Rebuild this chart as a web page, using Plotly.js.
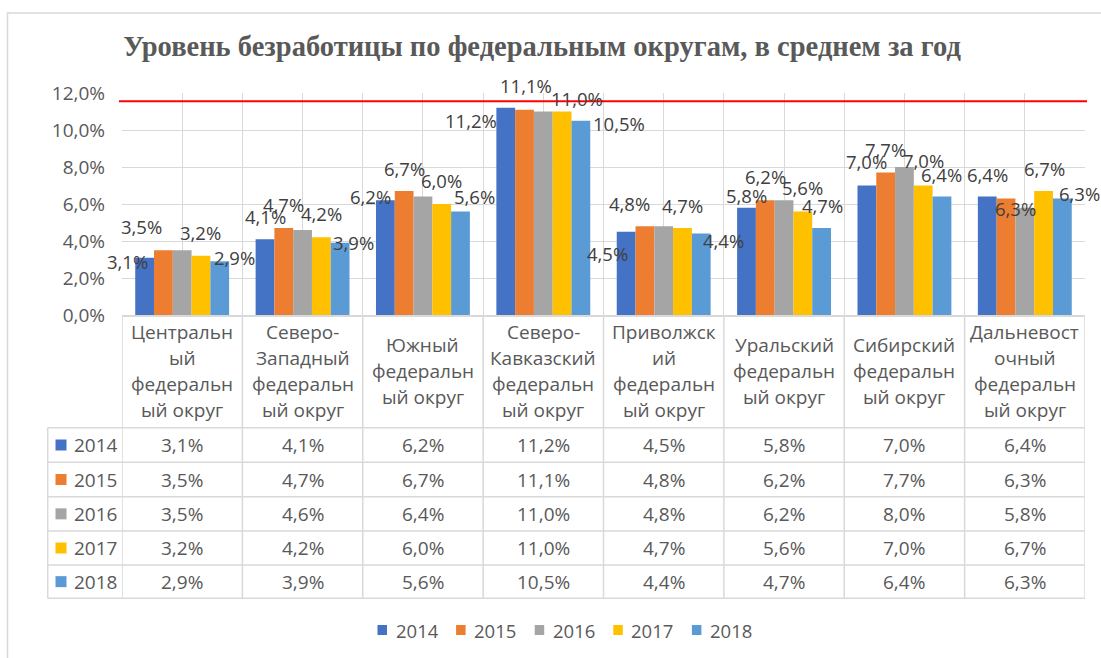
<!DOCTYPE html>
<html>
<head>
<meta charset="utf-8">
<script src="https://cdn.plot.ly/plotly-3.0.1.min.js"></script>
<style>html,body{margin:0;padding:0;background:#fff;}#chart{width:1101px;height:658px;}</style>
</head>
<body>
<div id="chart"></div>
<script>
// ---------- DATA ----------
const categories = [
  "Центральн\nый\nфедеральн\nый округ",
  "Северо-\nЗападный\nфедеральн\nый округ",
  "Южный\nфедеральн\nый округ",
  "Северо-\nКавказский\nфедеральн\nый округ",
  "Приволжск\nий\nфедеральн\nый округ",
  "Уральский\nфедеральн\nый округ",
  "Сибирский\nфедеральн\nый округ",
  "Дальневост\nочный\nфедеральн\nый округ"
];
const years = ["2014", "2015", "2016", "2017", "2018"];
const v2014 = [3.1, 4.1, 6.2, 11.2, 4.5, 5.8, 7.0, 6.4];
const v2015 = [3.5, 4.7, 6.7, 11.1, 4.8, 6.2, 7.7, 6.3];
const v2016 = [3.5, 4.6, 6.4, 11.0, 4.8, 6.2, 8.0, 5.8];
const v2017 = [3.2, 4.2, 6.0, 11.0, 4.7, 5.6, 7.0, 6.7];
const v2018 = [2.9, 3.9, 5.6, 10.5, 4.4, 4.7, 6.4, 6.3];
const yTickVals = [0, 2, 4, 6, 8, 10, 12];
const yTickText = ["0,0%", "2,0%", "4,0%", "6,0%", "8,0%", "10,0%", "12,0%"];
const referenceLine = 11.55;
const chartTitle = "Уровень безработицы по федеральным округам, в среднем за год";

// ---------- STYLE ----------
const series = [v2014, v2015, v2016, v2017, v2018];
const colors = ["#4472C4", "#ED7D31", "#A5A5A5", "#FFC000", "#5B9BD5"];
const FONT = "Open Sans, sans-serif";
const TXT = "#595959";
const LINE = "#d9d9d9";
// label nudges [dx, dy] in px relative to bar top centre (null = no label)
const labelNudge = [
  [[-17, 4], [0, -23], [-15, -4], [-35, 13], [-19, 22], [0, -12], [0, -24], [0, -22]],
  [[-22, -24], [0, -24], [0, -23], [1, -24], [-15, -23], [0, -24], [0, -23], [9, 10]],
  null,
  [[0, -23], [0, -24], [0, -24], [15, -13], [0, -23], [0, -24], [0, -25], [1, -23]],
  [[15, -4], [13, 0], [14, -15], [38, 3], [22, 7], [1, -23], [0, -22], [17, -5]]
];

const W = 1101, H = 658;
const PL = 122, PR = 1085, PT = 93, PB = 315;
const PW = PR - PL, PH = PB - PT;
const px = x => (x - PL) / PW;
const py = y => (PB - y) / PH;

const fmt = v => v.toFixed(1).replace(".", ",") + "%";
const idx = categories.map((c, i) => i);
const bargap = 0.22;
const barW = (1 - bargap) / years.length;

const traces = years.map((yr, i) => ({
  type: "bar",
  name: yr,
  x: idx,
  y: series[i],
  marker: { color: colors[i] },
  hoverinfo: "none",
  showlegend: false
}));

const annotations = [];
const shapes = [];

// data labels
series.forEach((vals, i) => {
  const nudge = labelNudge[i];
  if (!nudge) return;
  vals.forEach((v, k) => {
    annotations.push({
      xref: "x", yref: "y",
      x: k + (i - (years.length - 1) / 2) * barW, y: v,
      xshift: nudge[k][0], yshift: -nudge[k][1],
      text: fmt(v), showarrow: false,
      xanchor: "center", yanchor: "middle",
      font: { family: FONT, size: 18.5, color: "#404040" }
    });
  });
});

// table geometry
const headerBottom = 427.7;
const rowLines = [427.7, 462.3, 496.7, 531, 565, 598.3];
const tableLeft = 47.7;

// header labels (one annotation per line)
categories.forEach((c, k) => {
  const lines = c.split("\n");
  const mid = (PB + headerBottom) / 2;
  const lh = 26;
  lines.forEach((ln, j) => {
    const yc = mid + (j - (lines.length - 1) / 2) * lh;
    annotations.push({
      xref: "x", yref: "paper", x: k, y: py(yc),
      text: ln, showarrow: false, xanchor: "center", yanchor: "middle",
      font: { family: FONT, size: 19, color: TXT }
    });
  });
});

// table rows
years.forEach((yr, i) => {
  const yc = (rowLines[i] + rowLines[i + 1]) / 2;
  shapes.push({
    type: "rect", xref: "paper", yref: "paper",
    x0: px(55.5), x1: px(66.5), y0: py(yc + 5.5), y1: py(yc - 5.5),
    fillcolor: colors[i], line: { width: 0 }
  });
  annotations.push({
    xref: "paper", yref: "paper", x: px(72), y: py(yc),
    text: yr, showarrow: false, xanchor: "left", yanchor: "middle",
    font: { family: FONT, size: 19, color: TXT }
  });
  series[i].forEach((v, k) => {
    annotations.push({
      xref: "x", yref: "paper", x: k, y: py(yc),
      text: fmt(v), showarrow: false, xanchor: "center", yanchor: "middle",
      font: { family: FONT, size: 19, color: TXT }
    });
  });
});

// table lines
for (let k = 0; k <= categories.length; k++) {
  shapes.push({
    type: "line", xref: "x", yref: "paper",
    x0: k - 0.5, x1: k - 0.5, y0: py(PB), y1: py(rowLines[rowLines.length - 1]),
    line: { color: LINE, width: 1.5 }
  });
}
rowLines.forEach(yl => {
  shapes.push({
    type: "line", xref: "paper", yref: "paper",
    x0: px(tableLeft), x1: px(PR), y0: py(yl), y1: py(yl),
    line: { color: LINE, width: 1.5 }
  });
});
shapes.push({
  type: "line", xref: "paper", yref: "paper",
  x0: px(tableLeft), x1: px(tableLeft), y0: py(headerBottom), y1: py(rowLines[rowLines.length - 1]),
  line: { color: LINE, width: 1.5 }
});

// reference line
shapes.push({
  type: "line", xref: "paper", yref: "y",
  x0: px(119), x1: px(1087), y0: referenceLine, y1: referenceLine,
  line: { color: "#ff0000", width: 2 }
});

// chart outer border
shapes.push({
  type: "path", xref: "paper", yref: "paper",
  path: `M ${px(7.5)} ${py(700)} L ${px(7.5)} ${py(13)} L ${px(1200)} ${py(13)}`,
  line: { color: LINE, width: 1.5 }
});

// bottom legend
const legendY = 630;
const legendStart = 377.5, legendStep = 78.6;
years.forEach((yr, i) => {
  const x0 = legendStart + i * legendStep;
  shapes.push({
    type: "rect", xref: "paper", yref: "paper",
    x0: px(x0), x1: px(x0 + 9.5), y0: py(legendY + 5), y1: py(legendY - 5),
    fillcolor: colors[i], line: { width: 0 }
  });
  annotations.push({
    xref: "paper", yref: "paper", x: px(x0 + 16), y: py(legendY),
    text: yr, showarrow: false, xanchor: "left", yanchor: "middle",
    font: { family: FONT, size: 18.5, color: TXT }
  });
});

const layout = {
  width: W, height: H,
  margin: { l: PL, r: W - PR, t: PT, b: H - PB, pad: 0 },
  paper_bgcolor: "#ffffff", plot_bgcolor: "#ffffff",
  title: {
    text: "<b>" + chartTitle + "</b>",
    font: { family: "Liberation Serif, serif", size: 28.5, color: TXT },
    xref: "container", yref: "container",
    x: 542 / W, xanchor: "center", y: 1 - 46 / H, yanchor: "middle"
  },
  barmode: "group", bargap: bargap, bargroupgap: 0,
  showlegend: false,
  xaxis: {
    range: [-0.5, categories.length - 0.5],
    tickmode: "linear", tick0: -0.5, dtick: 0.5,
    showticklabels: false, ticks: "",
    showgrid: true, gridcolor: LINE, gridwidth: 1,
    zeroline: false, showline: true, linecolor: LINE, linewidth: 1.5,
    fixedrange: true
  },
  yaxis: {
    range: [0, 12],
    tickmode: "array", tickvals: yTickVals, ticktext: yTickText,
    ticklabelstandoff: 16,
    tickfont: { family: FONT, size: 19, color: TXT },
    showgrid: true, gridcolor: LINE, gridwidth: 1,
    zeroline: false, showline: false, ticks: "",
    fixedrange: true
  },
  annotations: annotations,
  shapes: shapes
};

Plotly.newPlot("chart", traces, layout, { displayModeBar: false, staticPlot: true });
</script>
</body>
</html>
